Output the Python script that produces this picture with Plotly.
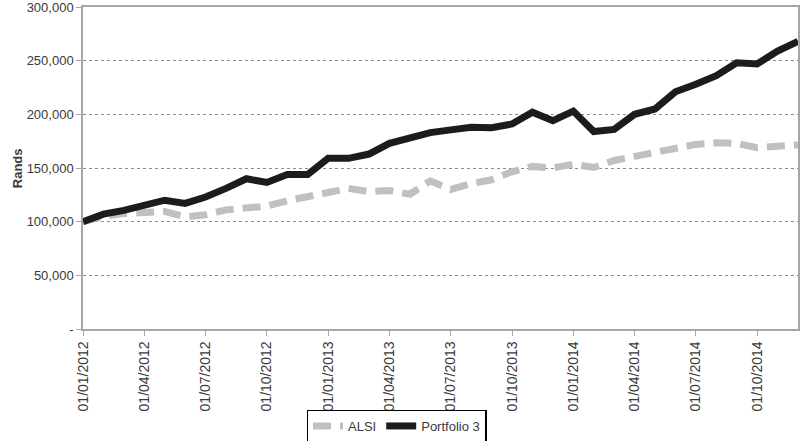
import plotly.graph_objects as go

months = [f"01/{m:02d}/{y}" for y in (2012, 2013, 2014) for m in range(1, 13)]

alsi = [100000, 105000, 107500, 108500, 109500, 104500, 106500, 111000, 113500, 114500,
        119500, 123500, 127000, 131000, 128000, 129000, 125500, 138000, 130000, 135500,
        139000, 146500, 151500, 150000, 153500, 150500, 157000, 160500, 163500, 167000,
        172000, 173500, 173000, 169000, 170000, 171500]

portfolio3 = [100000, 107000, 110500, 115000, 120000, 117000, 123000, 131000, 140000, 136500,
              144000, 144000, 159000, 159000, 163000, 173000, 178500, 183000, 185500, 188000,
              187500, 191000, 202000, 194000, 203000, 184000, 186000, 200000, 205000, 221000,
              228000, 236000, 248000, 247000, 259000, 268000]

x_tickvals = months[::3]
y_tickvals = [0, 50000, 100000, 150000, 200000, 250000, 300000]
y_ticktext = ["-", "50,000", "100,000", "150,000", "200,000", "250,000", "300,000"]

txt = "#3a3a3a"
axis_grey = "#a6a6a6"

fig = go.Figure()
fig.add_trace(go.Scatter(x=months, y=alsi, name="ALSI", mode="lines",
                         line=dict(color="#c0c0c0", width=7, dash="18px,9px")))
fig.add_trace(go.Scatter(x=months, y=portfolio3, name="Portfolio 3", mode="lines",
                         line=dict(color="#1c1c1c", width=7)))

fig.update_layout(
    width=800, height=441,
    margin=dict(l=83, r=2, t=7, b=112, autoexpand=False),
    paper_bgcolor="white", plot_bgcolor="white",
    font=dict(family="Liberation Sans", color=txt, size=13),
    showlegend=True,
    legend=dict(orientation="h", x=0.4385, xanchor="center", y=-0.25, yanchor="top",
                bordercolor="black", borderwidth=1.5, font=dict(size=13, color=txt),
                tracegroupgap=0, itemwidth=30),
    annotations=[dict(text="<b>Rands</b>", xref="paper", yref="paper",
                      x=-0.092, y=0.5, xanchor="center", yanchor="middle",
                      textangle=-90, showarrow=False, font=dict(size=13, color=txt))],
)

fig.update_xaxes(type="category", range=[0, 35], tickmode="array", tickvals=x_tickvals,
                 tickangle=-90, tickfont=dict(size=14, color=txt), automargin=False,
                 showline=True, linecolor=axis_grey, linewidth=1.5, mirror=True,
                 ticks="outside", ticklen=5, tickcolor=axis_grey, showgrid=False)
fig.update_yaxes(range=[0, 300000], tickmode="array", tickvals=y_tickvals, ticktext=y_ticktext,
                 tickfont=dict(size=13, color=txt), automargin=False, ticklabeloverflow="allow",
                 showline=True, linecolor=axis_grey, linewidth=1.5, mirror=True,
                 ticks="outside", ticklen=5, tickcolor=axis_grey,
                 showgrid=True, gridcolor="#8c8c8c", gridwidth=1, griddash="dot",
                 zeroline=False)

fig.write_html("out.html", config={"displayModeBar": False},
               post_script="document.body.style.margin='0';document.body.style.overflow='hidden';")
